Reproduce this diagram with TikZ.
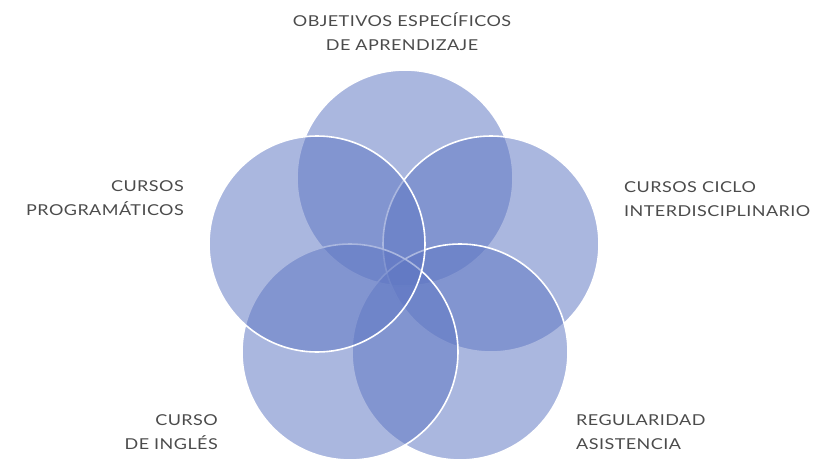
\documentclass[tikz,border=0pt]{standalone}
\usepackage{fontspec}
\setmainfont[LetterSpace=3, FakeStretch=1.2]{Lato}
\usepackage{tikz}

\definecolor{vennblue}{RGB}{95,119,195}
\definecolor{labelgray}{RGB}{75,75,75}

\tikzset{
  venn/.style = {circle, minimum size=216pt, inner sep=0pt,
                 fill=vennblue, fill opacity=0.53,
                 draw=white, draw opacity=1, line width=1.6pt},
  lbl/.style  = {text=labelgray, inner sep=0pt,
                 font=\fontsize{15}{24}\selectfont}
}

\begin{document}
\begin{tikzpicture}[x=1pt, y=-1pt]
\useasboundingbox (0,0) rectangle (824,463);
% the five sets, drawn clockwise from the top
\node[venn] (objetivos) at (405,178) {};
\node[venn] (ciclo)     at (491,244) {};
\node[venn] (asist)     at (460,352) {};
\node[venn] (ingles)    at (350,352) {};
\node[venn] (program)   at (317,244) {};

% labels
\node[lbl, align=center]           (tobjetivos) at (402,32)  {OBJETIVOS ESPECÍFICOS\\DE APRENDIZAJE};
\node[lbl, align=left, anchor=west] (tciclo)    at (624,199) {CURSOS CICLO\\INTERDISCIPLINARIO};
\node[lbl, align=left, anchor=west] (tasist)    at (576,432) {REGULARIDAD\\ASISTENCIA};
\node[lbl, align=right, anchor=east] (tingles)  at (218,432) {CURSO\\DE INGLÉS};
\node[lbl, align=right, anchor=east] (tprogram) at (184,198) {CURSOS\\PROGRAMÁTICOS};
\end{tikzpicture}
\end{document}
